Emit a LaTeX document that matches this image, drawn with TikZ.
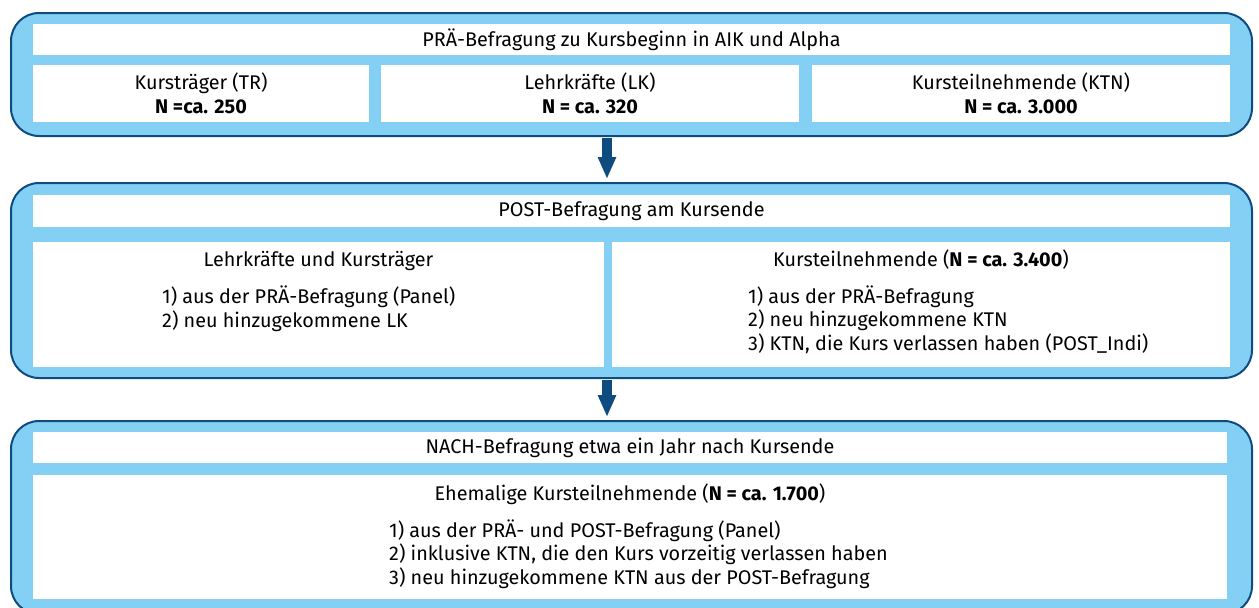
\documentclass[tikz,border=0pt]{standalone}
\usepackage{fontspec}
\setmainfont{Fira Sans}
\usepackage{tikz}
\usetikzlibrary{arrows.meta}
\definecolor{hellblau}{RGB}{132,208,244}
\definecolor{dunkelblau}{RGB}{14,76,127}

\begin{document}
\begin{tikzpicture}[x=1pt,y=-1pt]
    \tikzstyle{rahmen}=[rectangle,draw=dunkelblau,fill=hellblau,line width=2pt,rounded corners=28pt,inner sep=0pt,minimum width=1241pt]
    \tikzstyle{feld}=[rectangle,fill=white,inner sep=0pt]
    \tikzstyle{schrift}=[font=\fontsize{19.8}{23.5}\selectfont,inner sep=0pt]
    \tikzstyle{pfeil}=[draw=dunkelblau,line width=10pt,-{Triangle[width=17pt,length=22pt]}]
    \useasboundingbox (0,0) rectangle (1259,608);
    % PRAE
    \node[rahmen,minimum height=123pt] (pre) at (631.5,74.5) {};
    \node[feld,schrift,minimum width=1197pt,minimum height=31pt] (prekopf) at (631.5,39.5)
      {PRÄ-Befragung zu Kursbeginn in AIK und Alpha};
    \node[feld,schrift,align=center,minimum width=336pt,minimum height=57pt] (pretr) at (201,93.5)
      {Kursträger (TR)\\\textbf{N =ca. 250}};
    \node[feld,schrift,align=center,minimum width=418pt,minimum height=57pt] (prelk) at (590,93.5)
      {Lehrkräfte (LK)\\\textbf{N = ca. 320}};
    \node[feld,schrift,align=center,minimum width=418pt,minimum height=57pt] (prektn) at (1021,93.5)
      {Kursteilnehmende (KTN)\\\textbf{N = ca. 3.000}};
    % POST
    \node[rahmen,minimum height=195pt] (post) at (631.5,280.5) {};
    \node[feld,schrift,minimum width=1197pt,minimum height=32pt] (postkopf) at (631.5,211)
      {POST-Befragung am Kursende};
    \node[feld,minimum width=571pt,minimum height=125pt] (postlk) at (318.5,304.5) {};
    \node[feld,minimum width=618pt,minimum height=125pt] (postktn) at (921,304.5) {};
    \node[schrift,anchor=base] (postlktitel) at (318.5,266) {Lehrkräfte und Kursträger};
    \node[schrift,align=left,anchor=base west] (postlkliste) at (162,327)
      {1) aus der PRÄ-Befragung (Panel)\\2) neu hinzugekommene LK};
    \node[schrift,anchor=base] (postktntitel) at (921,266) {Kursteilnehmende (\textbf{N = ca. 3.400})};
    \node[schrift,align=left,anchor=base west] (postktnliste) at (748,350)
      {1) aus der PRÄ-Befragung\\2) neu hinzugekommene KTN\\3) KTN, die Kurs verlassen haben (POST\_Indi)};
    % NACH
    \node[rahmen,minimum height=193pt] (nach) at (631.5,517.5) {};
    \node[feld,schrift,minimum width=1194pt,minimum height=31pt] (nachkopf) at (630,447.5)
      {NACH-Befragung etwa ein Jahr nach Kursende};
    \node[feld,minimum width=1194pt,minimum height=124pt] (nachktn) at (630,537) {};
    \node[schrift,anchor=base] (nachtitel) at (630,500) {Ehemalige Kursteilnehmende (\textbf{N = ca. 1.700})};
    \node[schrift,align=left,anchor=base west] (nachliste) at (389,584)
      {1) aus der PRÄ- und POST-Befragung (Panel)\\2) inklusive KTN, die den Kurs vorzeitig verlassen haben\\3) neu hinzugekommene KTN aus der POST-Befragung};
    % Pfeile
    \draw[pfeil,shorten <=1pt,shorten >=3pt] ([xshift=-24.5pt]pre.south) -- ([xshift=-24.5pt]post.north);
    \draw[pfeil,shorten <=1pt,shorten >=3pt] ([xshift=-24.5pt]post.south) -- ([xshift=-24.5pt]nach.north);
\end{tikzpicture}
\end{document}
